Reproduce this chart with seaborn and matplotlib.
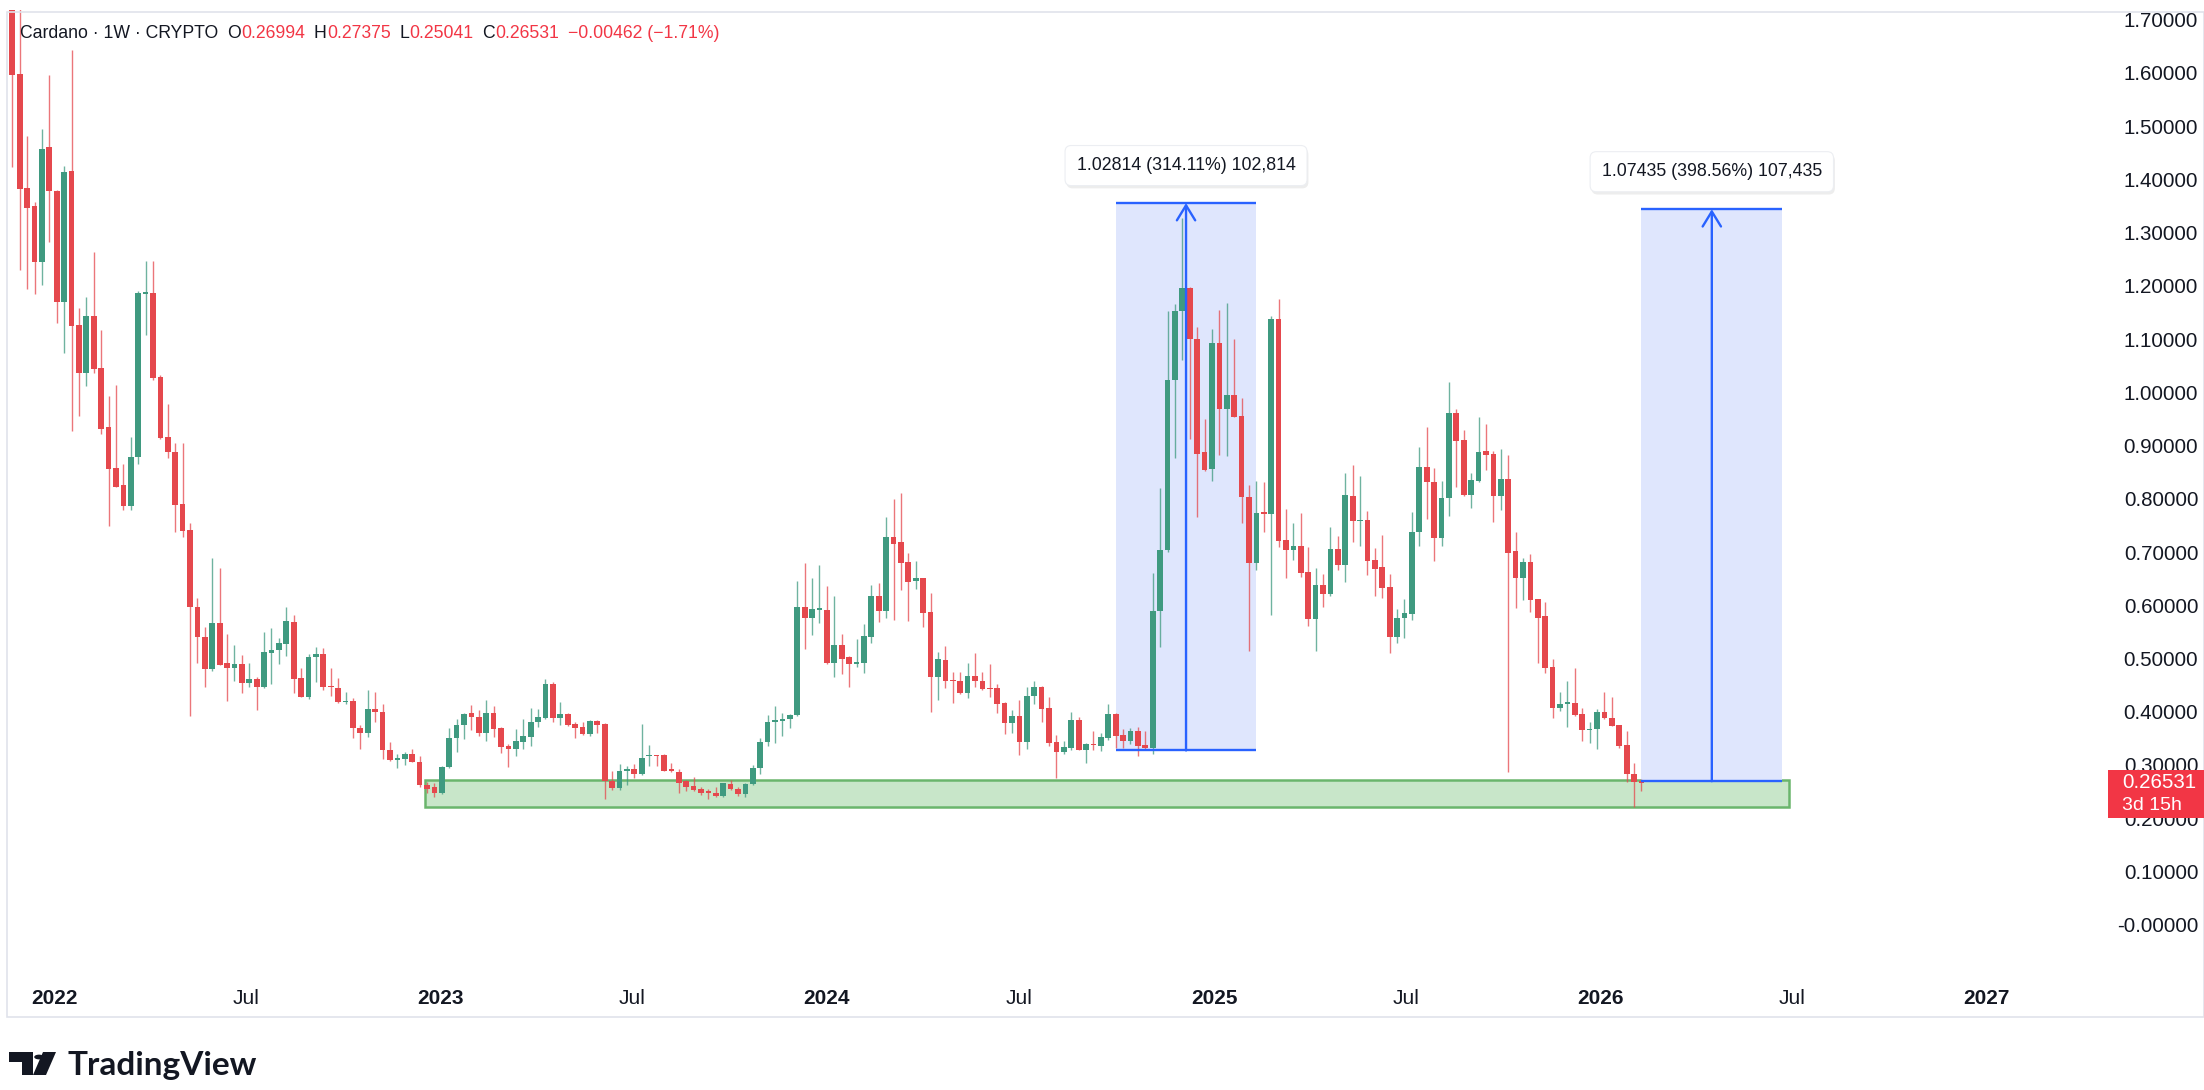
import numpy as np
import pandas as pd
import matplotlib
matplotlib.use('Agg')
import matplotlib.pyplot as plt
import matplotlib.dates as mdates
from matplotlib.patches import Rectangle, Polygon, Circle
import seaborn as sns

sns.set_theme(style='white')
plt.rcParams['font.family'] = ['Liberation Sans', 'DejaVu Sans']

# Cardano weekly candles, first bar 2021-11-22
start = '2021-11-22'
opens = [
    1.800, 1.598, 1.383, 1.350, 1.244, 1.460, 1.378, 1.170, 1.415, 1.127,
    1.036, 1.144, 1.045, 0.934, 0.857, 0.825, 0.786, 0.878, 1.185, 1.187,
    1.029, 0.917, 0.887, 0.790, 0.741, 0.597, 0.541, 0.480, 0.567, 0.491,
    0.483, 0.489, 0.454, 0.461, 0.446, 0.511, 0.516, 0.527, 0.569, 0.463,
    0.427, 0.502, 0.509, 0.448, 0.444, 0.418, 0.421, 0.370, 0.360, 0.405,
    0.400, 0.328, 0.310, 0.312, 0.321, 0.305, 0.263, 0.258, 0.247, 0.296,
    0.350, 0.375, 0.398, 0.391, 0.361, 0.398, 0.369, 0.336, 0.330, 0.344,
    0.353, 0.380, 0.388, 0.452, 0.388, 0.396, 0.377, 0.371, 0.358, 0.383,
    0.377, 0.270, 0.257, 0.289, 0.292, 0.283, 0.316, 0.318, 0.318, 0.292,
    0.286, 0.270, 0.261, 0.255, 0.249, 0.247, 0.241, 0.264, 0.255, 0.245,
    0.264, 0.294, 0.343, 0.381, 0.383, 0.386, 0.393, 0.596, 0.577, 0.592,
    0.592, 0.491, 0.525, 0.502, 0.490, 0.491, 0.541, 0.618, 0.589, 0.729,
    0.718, 0.681, 0.646, 0.651, 0.588, 0.466, 0.498, 0.459, 0.458, 0.436,
    0.468, 0.458, 0.445, 0.444, 0.417, 0.378, 0.392, 0.343, 0.430, 0.447,
    0.408, 0.343, 0.325, 0.331, 0.385, 0.329, 0.339, 0.336, 0.351, 0.396,
    0.356, 0.346, 0.363, 0.338, 0.331, 0.590, 0.703, 1.024, 1.152, 1.196,
    1.101, 0.888, 0.856, 1.092, 0.968, 0.995, 0.955, 0.804, 0.680, 0.774,
    0.772, 1.138, 0.722, 0.703, 0.712, 0.662, 0.574, 0.639, 0.621, 0.705,
    0.675, 0.806, 0.758, 0.760, 0.685, 0.671, 0.635, 0.540, 0.576, 0.584,
    0.737, 0.859, 0.831, 0.726, 0.801, 0.962, 0.910, 0.808, 0.834, 0.890,
    0.885, 0.806, 0.838, 0.702, 0.652, 0.681, 0.611, 0.579, 0.484, 0.407,
    0.415, 0.417, 0.396, 0.365, 0.367, 0.400, 0.389, 0.375, 0.338, 0.284,
    0.26994,
]
highs = [
    1.980, 1.760, 1.482, 1.358, 1.494, 1.596, 1.380, 1.425, 1.643, 1.159,
    1.179, 1.264, 1.117, 0.994, 1.013, 0.865, 0.917, 1.190, 1.246, 1.246,
    1.033, 0.978, 0.905, 0.905, 0.755, 0.613, 0.559, 0.688, 0.670, 0.546,
    0.526, 0.507, 0.491, 0.466, 0.549, 0.557, 0.538, 0.596, 0.582, 0.482,
    0.509, 0.522, 0.520, 0.482, 0.463, 0.437, 0.425, 0.375, 0.440, 0.438,
    0.415, 0.343, 0.321, 0.325, 0.330, 0.317, 0.269, 0.266, 0.299, 0.369,
    0.386, 0.398, 0.412, 0.403, 0.422, 0.410, 0.372, 0.339, 0.368, 0.386,
    0.408, 0.405, 0.461, 0.455, 0.419, 0.398, 0.381, 0.380, 0.385, 0.385,
    0.378, 0.288, 0.301, 0.299, 0.301, 0.377, 0.337, 0.319, 0.320, 0.303,
    0.292, 0.271, 0.278, 0.259, 0.255, 0.258, 0.267, 0.272, 0.258, 0.266,
    0.300, 0.350, 0.393, 0.410, 0.397, 0.395, 0.646, 0.679, 0.651, 0.676,
    0.636, 0.618, 0.546, 0.505, 0.537, 0.565, 0.639, 0.641, 0.765, 0.799,
    0.810, 0.699, 0.683, 0.652, 0.623, 0.513, 0.524, 0.474, 0.474, 0.491,
    0.510, 0.474, 0.489, 0.452, 0.419, 0.403, 0.422, 0.447, 0.457, 0.449,
    0.427, 0.356, 0.345, 0.400, 0.390, 0.342, 0.364, 0.361, 0.415, 0.397,
    0.368, 0.370, 0.372, 0.363, 0.660, 0.821, 1.153, 1.166, 1.327, 1.197,
    1.122, 0.950, 1.118, 1.154, 1.167, 1.100, 0.990, 0.825, 0.833, 0.831,
    1.144, 1.175, 0.780, 0.755, 0.773, 0.710, 0.670, 0.658, 0.747, 0.730,
    0.849, 0.864, 0.843, 0.778, 0.708, 0.732, 0.658, 0.593, 0.611, 0.776,
    0.897, 0.935, 0.857, 0.833, 1.019, 0.968, 0.929, 0.849, 0.954, 0.940,
    0.890, 0.893, 0.882, 0.737, 0.688, 0.696, 0.612, 0.607, 0.499, 0.438,
    0.457, 0.483, 0.408, 0.381, 0.405, 0.438, 0.427, 0.376, 0.364, 0.304,
    0.27375,
]
lows = [
    1.423, 1.230, 1.194, 1.184, 1.202, 1.283, 1.130, 1.073, 0.927, 0.956,
    1.011, 1.036, 0.922, 0.749, 0.822, 0.779, 0.779, 0.865, 1.108, 1.023,
    0.912, 0.876, 0.738, 0.728, 0.392, 0.492, 0.446, 0.477, 0.487, 0.420,
    0.457, 0.436, 0.446, 0.403, 0.444, 0.452, 0.489, 0.504, 0.436, 0.427,
    0.424, 0.455, 0.440, 0.430, 0.417, 0.415, 0.350, 0.330, 0.353, 0.380,
    0.311, 0.308, 0.295, 0.300, 0.305, 0.258, 0.247, 0.239, 0.245, 0.294,
    0.325, 0.348, 0.366, 0.355, 0.346, 0.353, 0.323, 0.297, 0.316, 0.330,
    0.336, 0.372, 0.386, 0.380, 0.375, 0.374, 0.350, 0.357, 0.355, 0.361,
    0.236, 0.253, 0.253, 0.262, 0.276, 0.282, 0.299, 0.299, 0.288, 0.287,
    0.247, 0.251, 0.251, 0.244, 0.237, 0.240, 0.239, 0.253, 0.241, 0.239,
    0.263, 0.284, 0.335, 0.341, 0.355, 0.369, 0.392, 0.517, 0.544, 0.566,
    0.489, 0.466, 0.471, 0.447, 0.485, 0.473, 0.530, 0.568, 0.576, 0.572,
    0.629, 0.570, 0.631, 0.559, 0.399, 0.422, 0.445, 0.417, 0.434, 0.425,
    0.446, 0.441, 0.428, 0.398, 0.358, 0.361, 0.318, 0.330, 0.415, 0.380,
    0.335, 0.276, 0.320, 0.328, 0.328, 0.304, 0.329, 0.327, 0.347, 0.331,
    0.331, 0.339, 0.316, 0.328, 0.320, 0.522, 0.700, 0.877, 1.060, 0.912,
    0.765, 0.852, 0.833, 0.882, 0.880, 0.953, 0.755, 0.514, 0.667, 0.738,
    0.582, 0.710, 0.652, 0.685, 0.654, 0.562, 0.514, 0.597, 0.618, 0.667,
    0.644, 0.718, 0.712, 0.656, 0.618, 0.614, 0.510, 0.529, 0.538, 0.572,
    0.711, 0.762, 0.684, 0.712, 0.768, 0.823, 0.806, 0.783, 0.832, 0.855,
    0.756, 0.779, 0.287, 0.594, 0.610, 0.587, 0.491, 0.473, 0.388, 0.401,
    0.372, 0.392, 0.345, 0.341, 0.330, 0.386, 0.373, 0.331, 0.269, 0.221,
    0.25041,
]
closes = [
    1.596, 1.381, 1.347, 1.244, 1.457, 1.378, 1.170, 1.413, 1.125, 1.036,
    1.144, 1.044, 0.932, 0.856, 0.823, 0.786, 0.878, 1.187, 1.188, 1.027,
    0.914, 0.887, 0.788, 0.740, 0.596, 0.541, 0.480, 0.567, 0.488, 0.483,
    0.489, 0.454, 0.461, 0.446, 0.512, 0.516, 0.529, 0.571, 0.462, 0.428,
    0.502, 0.509, 0.446, 0.446, 0.418, 0.421, 0.369, 0.360, 0.405, 0.399,
    0.328, 0.310, 0.313, 0.321, 0.305, 0.263, 0.255, 0.247, 0.296, 0.350,
    0.375, 0.396, 0.390, 0.361, 0.398, 0.367, 0.334, 0.330, 0.345, 0.354,
    0.381, 0.390, 0.452, 0.388, 0.396, 0.375, 0.369, 0.358, 0.383, 0.376,
    0.270, 0.257, 0.289, 0.292, 0.283, 0.314, 0.318, 0.316, 0.289, 0.288,
    0.267, 0.259, 0.253, 0.247, 0.248, 0.241, 0.266, 0.254, 0.245, 0.264,
    0.294, 0.343, 0.381, 0.384, 0.386, 0.394, 0.596, 0.577, 0.593, 0.594,
    0.491, 0.525, 0.500, 0.490, 0.493, 0.542, 0.618, 0.589, 0.729, 0.716,
    0.680, 0.644, 0.651, 0.586, 0.466, 0.500, 0.458, 0.457, 0.435, 0.468,
    0.457, 0.443, 0.443, 0.415, 0.378, 0.392, 0.343, 0.430, 0.447, 0.405,
    0.341, 0.325, 0.333, 0.385, 0.329, 0.339, 0.337, 0.352, 0.396, 0.355,
    0.346, 0.363, 0.336, 0.331, 0.590, 0.703, 1.024, 1.152, 1.196, 1.100,
    0.884, 0.855, 1.092, 0.968, 0.995, 0.954, 0.804, 0.680, 0.773, 0.772,
    1.138, 0.720, 0.703, 0.712, 0.660, 0.574, 0.639, 0.621, 0.705, 0.675,
    0.807, 0.758, 0.760, 0.684, 0.669, 0.633, 0.540, 0.577, 0.586, 0.737,
    0.859, 0.832, 0.726, 0.801, 0.962, 0.909, 0.808, 0.835, 0.888, 0.882,
    0.806, 0.838, 0.699, 0.652, 0.681, 0.610, 0.577, 0.483, 0.407, 0.415,
    0.418, 0.394, 0.365, 0.368, 0.400, 0.388, 0.374, 0.336, 0.284, 0.268,
    0.26531,
]

# drawings on the chart
zone_start, zone_end = '2022-12-17', '2026-06-28'
zone_low, zone_high = 0.2205, 0.2718
m1_start, m1_end = '2024-09-30', '2025-02-10'
m1_low, m1_high = 0.32732, 1.35546
m1_label = '1.02814 (314.11%) 102,814'
m2_start, m2_end = '2026-02-09', '2026-06-22'
m2_low, m2_high = 0.26956, 1.34391
m2_label = '1.07435 (398.56%) 107,435'

price_ticks = [round(0.1 * i, 1) for i in range(18)]
price_labels = ['-0.00000'] + ['%.5f' % v for v in price_ticks[1:]]
time_ticks = ['2022-01-01', '2022-07-01', '2023-01-01', '2023-07-01', '2024-01-01',
              '2024-07-01', '2025-01-01', '2025-07-01', '2026-01-01', '2026-07-01',
              '2027-01-01']
time_labels = ['2022', 'Jul', '2023', 'Jul', '2024', 'Jul', '2025', 'Jul', '2026', 'Jul', '2027']

GREEN = '#3f9a80'
RED = '#e5484d'
BLUE = '#2962ff'
DARK = '#131722'
TV_RED = '#f23645'

df = pd.DataFrame({'date': pd.date_range(start, periods=len(opens), freq='7D'),
                   'open': opens, 'high': highs, 'low': lows, 'close': closes})

W, H = 2204, 1090
fig = plt.figure(figsize=(W / 100, H / 100), dpi=100)
fig.patch.set_facecolor('white')


def fx(px):
    return px / W


def fy(py):
    return 1 - py / H


ax = fig.add_axes([fx(8), fy(978), fx(2108) - fx(8), fy(10) - fy(978)])
ax.set_facecolor('white')

x = mdates.date2num(df['date'])
x0 = mdates.date2num(pd.Timestamp(start))
up = (df['close'] >= df['open']).values
cols = np.where(up, GREEN, RED)

# support zone
zs, ze = mdates.date2num(pd.Timestamp(zone_start)), mdates.date2num(pd.Timestamp(zone_end))
ax.add_patch(Rectangle((zs, zone_low), ze - zs, zone_high - zone_low,
                       facecolor='#c8e6c9', edgecolor='#6ab56c', lw=1.8, zorder=1))

# measure boxes (fills)
for s, e, lo, hi in [(m1_start, m1_end, m1_low, m1_high), (m2_start, m2_end, m2_low, m2_high)]:
    s, e = mdates.date2num(pd.Timestamp(s)), mdates.date2num(pd.Timestamp(e))
    ax.add_patch(Rectangle((s, lo), e - s, hi - lo, facecolor='#dfe6fd', edgecolor='none', zorder=1))

# candles
ax.vlines(x, df['low'], df['high'], colors=cols, linewidth=1.0, alpha=0.75, zorder=3)
body_low = np.minimum(df['open'], df['close'])
body_h = np.maximum(np.abs(df['close'] - df['open']), 0.0025)
ax.bar(x, body_h, bottom=body_low, width=5.4, color=cols, linewidth=0, zorder=4)

# measure lines, arrows, labels
for s, e, lo, hi, lab in [(m1_start, m1_end, m1_low, m1_high, m1_label),
                          (m2_start, m2_end, m2_low, m2_high, m2_label)]:
    s, e = mdates.date2num(pd.Timestamp(s)), mdates.date2num(pd.Timestamp(e))
    c = (s + e) / 2
    ax.hlines([lo, hi], s, e, colors=BLUE, lw=1.7, zorder=5)
    ax.annotate('', xy=(c, hi), xytext=(c, lo),
                arrowprops=dict(arrowstyle='->,head_length=0.9,head_width=0.55',
                                color=BLUE, lw=1.7, shrinkA=0, shrinkB=0), zorder=5)
    ax.annotate(lab, xy=(c, hi), xytext=(1, 25), textcoords='offset points',
                ha='center', va='center', fontsize=12.8, color='none', zorder=6,
                bbox=dict(boxstyle='round,pad=0.65,rounding_size=0.35',
                          fc=(0, 0, 0, 0.07), ec='none'))
    ax.annotate(lab, xy=(c, hi), xytext=(0, 27), textcoords='offset points',
                ha='center', va='center', fontsize=12.8, color=DARK, zorder=7,
                bbox=dict(boxstyle='round,pad=0.65,rounding_size=0.35',
                          fc='white', ec='#eceef2', lw=0.8))

ax.set_ylim(0.3 - (978 - 765) / 532.4, 0.3 + (765 - 10) / 532.4)
ax.set_xlim(x0 - 0.58 * 7, x0 + 283.0 * 7)

ax.set_yticks(price_ticks)
ax.set_yticklabels(price_labels)
ax.yaxis.tick_right()
ax.tick_params(axis='y', length=0, pad=65, labelsize=14.8, labelcolor=DARK)
for lbl in ax.get_yticklabels():
    lbl.set_horizontalalignment('right')

ax.set_xticks(mdates.date2num(pd.to_datetime(time_ticks)))
ax.set_xticklabels(time_labels)
ax.tick_params(axis='x', length=0, pad=8, labelsize=15, labelcolor=DARK)
for lbl in ax.get_xticklabels():
    if lbl.get_text() != 'Jul':
        lbl.set_fontweight('bold')

for sp in ax.spines.values():
    sp.set_visible(False)
ax.grid(False)

# frame
fig.add_artist(Rectangle((fx(7), fy(1017)), fx(2204) - fx(7), fy(12) - fy(1017),
                         transform=fig.transFigure, fill=False, ec='#e0e3eb', lw=1.2))

# last price box
fig.add_artist(Rectangle((fx(2108), fy(818)), fx(2204) - fx(2108), fy(770) - fy(818),
                         transform=fig.transFigure, fc=TV_RED, ec='none', zorder=5))
fig.text(fx(2122), fy(783), '0.26531', color='white', fontsize=14.8, va='center', zorder=6)
fig.text(fx(2122), fy(806), '3d 15h', color='white', fontsize=14, va='center', zorder=6)

# header legend
fig.canvas.draw()
rend = fig.canvas.get_renderer()
pieces = [('Cardano · 1W · CRYPTO', DARK, 9), ('O', DARK, 0), ('0.26994', TV_RED, 9),
          ('H', DARK, 0), ('0.27375', TV_RED, 9), ('L', DARK, 0), ('0.25041', TV_RED, 9),
          ('C', DARK, 0), ('0.26531', TV_RED, 9), ('\u22120.00462 (\u22121.71%)', TV_RED, 0)]
cx = 20
for txt, col, gap in pieces:
    t = fig.text(fx(cx), fy(34), txt, color=col, fontsize=12.7, va='center', ha='left')
    cx += t.get_window_extent(rend).width + gap

# TradingView logo
logo = [Polygon([(fx(9), fy(1052)), (fx(33), fy(1052)), (fx(33), fy(1075)),
                 (fx(22), fy(1075)), (fx(22), fy(1062)), (fx(9), fy(1062))], closed=True),
        Polygon([(fx(43), fy(1052)), (fx(56), fy(1052)), (fx(46), fy(1075)), (fx(33), fy(1075))],
                closed=True)]
for p in logo:
    p.set_transform(fig.transFigure)
    p.set_facecolor(DARK)
    p.set_edgecolor('none')
    fig.add_artist(p)
dot = Circle((fx(39), fy(1057)), 4.8 / W, transform=fig.transFigure, fc=DARK, ec='none')
fig.add_artist(dot)
fig.text(fx(67), fy(1066), 'TradingView', fontsize=24, fontweight='bold', color=DARK,
         family=['Lato', 'DejaVu Sans'], va='center', ha='left')

fig.savefig('out.png', dpi=100, facecolor='white')
